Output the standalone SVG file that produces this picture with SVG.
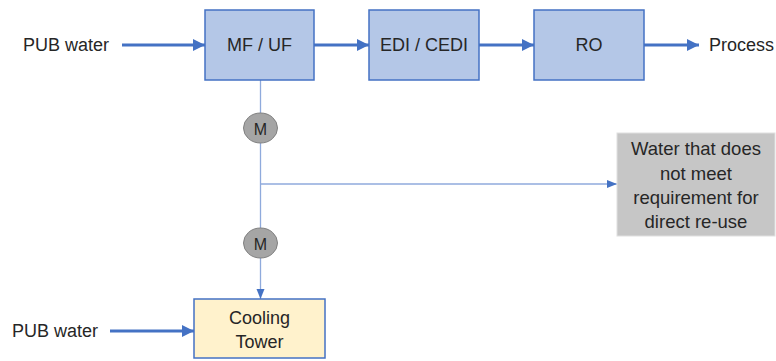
<svg xmlns="http://www.w3.org/2000/svg" width="776" height="361" viewBox="0 0 776 361">
<defs>
<marker id="ah" viewBox="0 0 10 10" refX="10" refY="5" markerWidth="4" markerHeight="4" markerUnits="strokeWidth" orient="auto"><path d="M0,0 L10,5 L0,10 z" fill="#4472C4"/></marker>
<marker id="ahs" viewBox="0 0 10 10" refX="10" refY="5" markerWidth="8" markerHeight="8" markerUnits="strokeWidth" orient="auto"><path d="M0,1 L10,5 L0,9 z" fill="#4472C4"/></marker>
<style>
text{font-family:"Liberation Sans",Arial,sans-serif;font-size:18px;fill:#262626;dominant-baseline:central}
.c{text-anchor:middle}
.mt{font-size:16px}
.g{font-size:18.5px}
.blue{fill:#B4C7E7;stroke:#4472C4;stroke-width:1.5}
.thick{stroke:#4472C4;stroke-width:3;fill:none;marker-end:url(#ah)}
.thin{stroke:#8FAADC;stroke-width:1.3;fill:none;marker-end:url(#ahs)}
.m{fill:#A5A5A5;stroke:#808080;stroke-width:1}
</style>
</defs>
<g id="connectors">
<line class="thick" x1="122" y1="45" x2="205" y2="45"/>
<line class="thick" x1="314" y1="45" x2="369" y2="45"/>
<line class="thick" x1="479" y1="45" x2="534" y2="45"/>
<line class="thick" x1="644" y1="45" x2="699" y2="45"/>
<line class="thin" x1="260.5" y1="80" x2="260.5" y2="299"/>
<line class="thin" x1="260.5" y1="184" x2="617" y2="184"/>
<line class="thick" x1="110" y1="331" x2="194" y2="331"/>
</g>
<g id="pub1"><text x="23" y="45">PUB water</text></g>
<g id="mfuf"><rect class="blue" x="205" y="10" width="109" height="70"/><text class="c" x="259.5" y="45">MF / UF</text></g>
<g id="edi"><rect class="blue" x="369" y="10" width="110" height="70"/><text class="c" x="424" y="45">EDI / CEDI</text></g>
<g id="ro"><rect class="blue" x="534" y="10" width="110" height="70"/><text class="c" x="589" y="45">RO</text></g>
<g id="process"><text x="709" y="45">Process</text></g>
<g id="m1"><ellipse class="m" cx="260.5" cy="128" rx="17" ry="15"/><text class="c mt" x="260.5" y="129">M</text></g>
<g id="m2"><ellipse class="m" cx="260.5" cy="243" rx="17" ry="15"/><text class="c mt" x="260.5" y="244">M</text></g>
<g id="reject"><rect x="617" y="133" width="158" height="103" fill="#C6C6C6" stroke="#E0E0E0" stroke-width="1"/>
<text class="c g" x="696" y="148">Water that does</text>
<text class="c g" x="696" y="173">not meet</text>
<text class="c g" x="696" y="197">requirement for</text>
<text class="c g" x="696" y="221">direct re-use</text></g>
<g id="pub2"><text x="12" y="331">PUB water</text></g>
<g id="cooling"><rect x="194" y="299" width="131" height="59" fill="#FFF2CC" stroke="#4472C4" stroke-width="1.5"/>
<text class="c" x="259.5" y="318">Cooling</text><text class="c" x="259.5" y="342">Tower</text></g>
</svg>
